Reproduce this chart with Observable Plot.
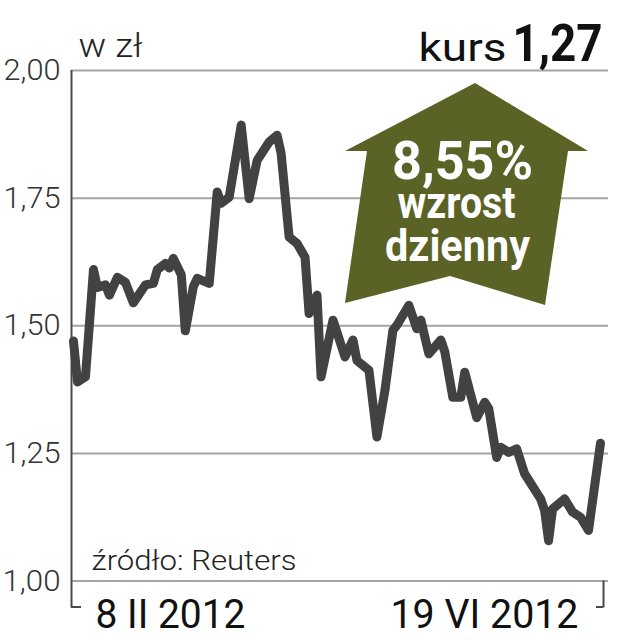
<!DOCTYPE html>
<html>
<head>
<meta charset="utf-8">
<script src="https://cdn.jsdelivr.net/npm/d3@7"></script>
<script src="https://cdn.jsdelivr.net/npm/@observablehq/plot@0.6"></script>
<style>
  html, body { margin: 0; padding: 0; background: #fff; }
  svg { display: block; }
</style>
</head>
<body>
<div id="chart"></div>
<script>
// ---- data ----
const dates = [
  "2012-02-08","2012-02-09","2012-02-11","2012-02-13","2012-02-14","2012-02-16","2012-02-17","2012-02-19",
  "2012-02-21","2012-02-23","2012-02-26","2012-02-28","2012-02-29","2012-03-02","2012-03-03","2012-03-04",
  "2012-03-06","2012-03-07","2012-03-09","2012-03-10","2012-03-13","2012-03-15","2012-03-16","2012-03-18",
  "2012-03-21","2012-03-23","2012-03-25","2012-03-28","2012-03-30","2012-03-31","2012-04-02","2012-04-04",
  "2012-04-06","2012-04-07","2012-04-09","2012-04-10","2012-04-13","2012-04-16","2012-04-18","2012-04-19",
  "2012-04-22","2012-04-24","2012-04-26","2012-04-28","2012-04-29","2012-05-02","2012-05-04","2012-05-05",
  "2012-05-07","2012-05-10","2012-05-11","2012-05-13","2012-05-15","2012-05-16","2012-05-19","2012-05-21",
  "2012-05-22","2012-05-24","2012-05-25","2012-05-27","2012-05-29","2012-05-31","2012-06-04","2012-06-05",
  "2012-06-06","2012-06-07","2012-06-10","2012-06-12","2012-06-14","2012-06-16","2012-06-19"
];
const values = [
  1.47, 1.39, 1.40, 1.61, 1.575, 1.58, 1.56, 1.595,
  1.585, 1.545, 1.58, 1.583, 1.61, 1.622, 1.613, 1.632,
  1.60, 1.49, 1.576, 1.593, 1.583, 1.762, 1.74, 1.752,
  1.893, 1.749, 1.824, 1.86, 1.873, 1.838, 1.674, 1.661,
  1.634, 1.524, 1.56, 1.40, 1.511, 1.439, 1.472, 1.432,
  1.413, 1.282, 1.373, 1.491, 1.501, 1.54, 1.494, 1.511,
  1.445, 1.472, 1.449, 1.36, 1.36, 1.409, 1.32, 1.35,
  1.338, 1.242, 1.262, 1.252, 1.259, 1.21, 1.161, 1.138,
  1.079, 1.141, 1.161, 1.135, 1.125, 1.099, 1.27
];
const yTicks = [1.00, 1.25, 1.50, 1.75, 2.00];
const unitLabel = "w zł";
const rateLabel = "kurs";
const rateValue = "1,27";
const sourceLabel = "źródło: Reuters";
const startLabel = "8 II 2012";
const endLabel = "19 VI 2012";
const changeValue = "8,55%";
const changeLines = ["wzrost", "dzienny"];

// ---- build ----
const parse = d3.utcParse("%Y-%m-%d");
const data = dates.map((d, i) => ({date: parse(d), value: values[i]}));
const first = data[0].date, last = data[data.length - 1].date;
const fmt = d => d.toFixed(2).replace(".", ",");

const FONT = "Roboto, 'Liberation Sans', sans-serif";
const ARROW = "#5b6226";

// arrow annotation shape (pixel offsets relative to the frame's top-left)
const arrowShape = [[404,13],[517,81],[497,81],[474,235],[379,206],[274,233],[296,81],[274,81]];

const arrowMark = (index, scales, values, dim) => {
  const g = d3.create("svg:polygon")
    .attr("points", arrowShape.map(([x, y]) => [x + dim.marginLeft, y + dim.marginTop].join(",")).join(" "))
    .attr("fill", ARROW);
  return g.node();
};

const chart = Plot.plot({
  width: 636,
  height: 640,
  marginLeft: 71,
  marginRight: 28,
  marginTop: 70,
  marginBottom: 59.5,
  x: {type: "utc", domain: [first, last], range: [73, 600], axis: null},
  y: {domain: [1, 2], axis: null},
  style: {background: "#fff", fontFamily: FONT},
  marks: [
    Plot.ruleY(yTicks, {stroke: "#a4a4a4", strokeWidth: 2}),
    arrowMark,
    // left axis line with bracket
    Plot.ruleX([first], {y1: 2, y2: 1, dx: -2, insetBottom: -27, stroke: "#4a4a4a", strokeWidth: 2}),
    Plot.ruleY([1], {x1: first, x2: first, dx: -2, dy: 26, insetRight: -10, stroke: "#4a4a4a", strokeWidth: 2}),
    // right bracket
    Plot.ruleX([last], {y1: 1, y2: 1, dx: 3, insetBottom: -27, stroke: "#4a4a4a", strokeWidth: 2}),
    Plot.ruleY([1], {x1: last, x2: last, dx: 3, dy: 26, insetLeft: -7, stroke: "#4a4a4a", strokeWidth: 2}),
    // series
    Plot.line(data, {x: "date", y: "value", stroke: "#424242", strokeWidth: 9,
      strokeLinejoin: "round", strokeLinecap: "round"}),
    // y tick labels
    Plot.text(yTicks, {y: d => d, text: fmt, frameAnchor: "left", dx: -11, textAnchor: "end",
      fontSize: 30, fontWeight: 300, fill: "#333"}),
    // header
    Plot.text([unitLabel], {frameAnchor: "top-left", dx: 7, dy: -14, lineAnchor: "bottom", textAnchor: "start",
      fontSize: 34, fontWeight: 300, fill: "#222"}),
    Plot.text([rateLabel], {frameAnchor: "top-left", dx: 347, dy: -10, lineAnchor: "bottom", textAnchor: "start",
      fontSize: 39, fontWeight: 400, fill: "#111"}),
    Plot.text([rateValue], {frameAnchor: "top-right", dx: -6, dy: -10, lineAnchor: "bottom", textAnchor: "end",
      fontSize: 52, fontWeight: 700, fill: "#111"}),
    // arrow texts
    Plot.text([changeValue], {frameAnchor: "top-left", dx: 391, dy: 108, lineAnchor: "bottom", textAnchor: "middle",
      fontSize: 54, fontWeight: 700, fill: "#fff"}),
    Plot.text([changeLines[0]], {frameAnchor: "top-left", dx: 385, dy: 147, lineAnchor: "bottom", textAnchor: "middle",
      fontSize: 44, fontWeight: 700, fill: "#fff"}),
    Plot.text([changeLines[1]], {frameAnchor: "top-left", dx: 386, dy: 190, lineAnchor: "bottom", textAnchor: "middle",
      fontSize: 44, fontWeight: 700, fill: "#fff"}),
    // footer
    Plot.text([sourceLabel], {frameAnchor: "bottom-left", dx: 20, dy: -11.5, lineAnchor: "bottom", textAnchor: "start",
      fontSize: 27, fontWeight: 300, fill: "#222"}),
    Plot.text([startLabel], {frameAnchor: "bottom-left", dx: 24, dy: 46.5, lineAnchor: "bottom", textAnchor: "start",
      fontSize: 41, fontWeight: 400, fill: "#111"}),
    Plot.text([endLabel], {frameAnchor: "bottom-right", dx: -30, dy: 46.5, lineAnchor: "bottom", textAnchor: "end",
      fontSize: 41, fontWeight: 400, fill: "#111"})
  ]
});

// condensed look: fit texts to the measured widths
const widths = {
  "2,00": 57, "1,75": 57, "1,50": 57, "1,25": 57, "1,00": 58,
  [unitLabel]: 64, [rateLabel]: 88, [rateValue]: 90,
  [sourceLabel]: 205, [startLabel]: 150, [endLabel]: 188,
  [changeValue]: 141, [changeLines[0]]: 118, [changeLines[1]]: 145
};
d3.select(chart).selectAll("text").each(function() {
  const t = this.textContent;
  if (widths[t]) {
    this.setAttribute("textLength", widths[t]);
    this.setAttribute("lengthAdjust", "spacingAndGlyphs");
  }
});

document.getElementById("chart").append(chart);
</script>
</body>
</html>
